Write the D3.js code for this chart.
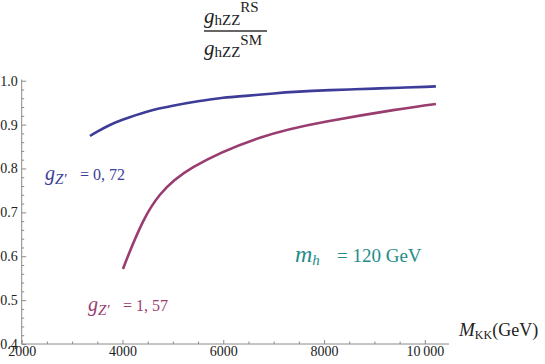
<!DOCTYPE html>
<html>
<head>
<meta charset="utf-8">
<script src="https://cdn.jsdelivr.net/npm/d3@7"></script>
<style>
  html, body { margin: 0; padding: 0; background: #fff; }
  svg { display: block; }
  svg text { font-family: "Liberation Serif", "Times New Roman", serif !important; }
</style>
</head>
<body>
<svg id="chart" width="545" height="364"></svg>
<script>
// ---- data ----
const massBlue = [3355, 3500, 3750, 4000, 4500, 5000, 5500, 6000, 6500, 7000, 7500, 8000, 8500, 9000, 9500, 10000, 10220];
const ratioBlue = [0.874, 0.884, 0.899, 0.911, 0.930, 0.943, 0.953, 0.961, 0.966, 0.971, 0.975, 0.978, 0.980, 0.982, 0.984, 0.986, 0.987];
const massPurple = [4010, 4150, 4413, 4744, 5405, 6728, 8052, 9373, 10220];
const ratioPurple = [0.571, 0.612, 0.680, 0.740, 0.803, 0.870, 0.907, 0.933, 0.947];
const xMajorTicks = [2000, 4000, 6000, 8000, 10000];
const xTickLabels = ["2000", "4000", "6000", "8000", "10\u2009000"];
const yMajorTicks = [0.4, 0.5, 0.6, 0.7, 0.8, 0.9, 1.0];
const yTickLabels = ["0.4", "0.5", "0.6", "0.7", "0.8", "0.9", "1.0"];

const svg = d3.select("#chart");
const x = d3.scaleLinear().domain([2000, 10480]).range([21.7, 449]);
const y = d3.scaleLinear().domain([0.4, 1.0]).range([344, 80.7]);

const serif = "'Liberation Serif', 'Times New Roman', serif";
const axisColor = "#8a8a8a";
const blue = "#3d3d99";
const purple = "#993d71";
const teal = "#238c88";

// axis lines
svg.append("line").attr("x1", x(2000)).attr("x2", 449).attr("y1", y(0.4)).attr("y2", y(0.4))
  .attr("stroke", axisColor).attr("stroke-width", 1);
svg.append("line").attr("x1", x(2000)).attr("x2", x(2000)).attr("y1", y(0.4)).attr("y2", 79.5)
  .attr("stroke", axisColor).attr("stroke-width", 1);

// x minor ticks
const xMinor = d3.range(2500, 10480, 500).filter(v => v % 2000 !== 0);
svg.append("g").attr("transform", `translate(0,${y(0.4)})`)
  .call(d3.axisBottom(x).tickValues(xMinor).tickFormat("").tickSizeInner(-2.5).tickSizeOuter(0))
  .call(g => g.select(".domain").remove())
  .call(g => g.selectAll("line").attr("stroke", axisColor));
// x major ticks
svg.append("g").attr("transform", `translate(0,${y(0.4)})`)
  .call(d3.axisBottom(x).tickValues(xMajorTicks).tickFormat((d, i) => xTickLabels[i]).tickSizeInner(-4).tickSizeOuter(0).tickPadding(2))
  .call(g => g.attr("font-family", null).attr("font-size", null))
  .call(g => g.select(".domain").remove())
  .call(g => g.selectAll("line").attr("stroke", axisColor))
  .call(g => g.selectAll("text").style("font-size", "14px").style("font-family", serif).attr("fill", "#222"));

// y minor ticks
const yMinor = d3.range(0, 30).map(i => 0.4 + i * 0.02).filter(v => v <= 1.0001 && Math.abs(v * 10 - Math.round(v * 10)) > 1e-6);
svg.append("g").attr("transform", `translate(${x(2000)},0)`)
  .call(d3.axisLeft(y).tickValues(yMinor).tickFormat("").tickSizeInner(-2.5).tickSizeOuter(0))
  .call(g => g.select(".domain").remove())
  .call(g => g.selectAll("line").attr("stroke", axisColor));
// y major ticks
svg.append("g").attr("transform", `translate(${x(2000)},0)`)
  .call(d3.axisLeft(y).tickValues(yMajorTicks).tickFormat((d, i) => yTickLabels[i]).tickSizeInner(-4.5).tickSizeOuter(0).tickPadding(4))
  .call(g => g.attr("font-family", null).attr("font-size", null))
  .call(g => g.select(".domain").remove())
  .call(g => g.selectAll("line").attr("stroke", axisColor))
  .call(g => g.selectAll("text").style("font-size", "14px").style("font-family", serif).attr("fill", "#222"));

// curves
const line = d3.line().x(d => x(d[0])).y(d => y(d[1])).curve(d3.curveNatural);
svg.append("path").datum(massBlue.map((m, i) => [m, ratioBlue[i]]))
  .attr("d", line).attr("fill", "none").attr("stroke", blue).attr("stroke-width", 2.6);
svg.append("path").datum(massPurple.map((m, i) => [m, ratioPurple[i]]))
  .attr("d", line).attr("fill", "none").attr("stroke", purple).attr("stroke-width", 2.6);

// title fraction
const t = svg.append("g").attr("fill", "#222");
function frac(baseY, sup, supY) {
  const tx = t.append("text").attr("x", 204).attr("y", baseY);
  tx.append("tspan").attr("font-style", "italic").attr("font-size", 21).text("g");
  tx.append("tspan").attr("font-size", 15).attr("dy", 2).text("hZZ");
  tx.append("tspan").attr("font-size", 15).attr("dy", supY).text(sup);
}
frac(23, "RS", -13);
t.append("line").attr("x1", 204).attr("x2", 267).attr("y1", 31).attr("y2", 31)
  .attr("stroke", "#333").attr("stroke-width", 1.3);
frac(55, "SM", -12);

// x axis label
const xl = svg.append("text").attr("x", 459).attr("y", 336).attr("fill", "#222");
xl.append("tspan").attr("font-style", "italic").attr("font-size", 19).text("M");
xl.append("tspan").attr("font-size", 12).attr("dy", 3).text("KK");
xl.append("tspan").attr("font-size", 18).attr("dy", -3).text("(GeV)");

// annotations
function gLabel(px, py, val, color) {
  const tx = svg.append("text").attr("x", px).attr("y", py).attr("fill", color);
  tx.append("tspan").attr("font-style", "italic").attr("font-size", 20).text("g");
  tx.append("tspan").attr("font-style", "italic").attr("font-size", 15).attr("dy", 4).text("Z\u2032");
  tx.append("tspan").attr("font-size", 16).attr("dy", -4).attr("x", px + 35).text("= " + val);
}
gLabel(45, 180, "0, 72", blue);
gLabel(88, 311, "1, 57", purple);

const mh = svg.append("text").attr("x", 295).attr("y", 262).attr("fill", teal);
mh.append("tspan").attr("font-style", "italic").attr("font-size", 24).text("m");
mh.append("tspan").attr("font-style", "italic").attr("font-size", 15).attr("dy", 3).text("h");
mh.append("tspan").attr("font-size", 19).attr("dy", -3).attr("x", 337).text("= 120 GeV");
</script>
</body>
</html>
